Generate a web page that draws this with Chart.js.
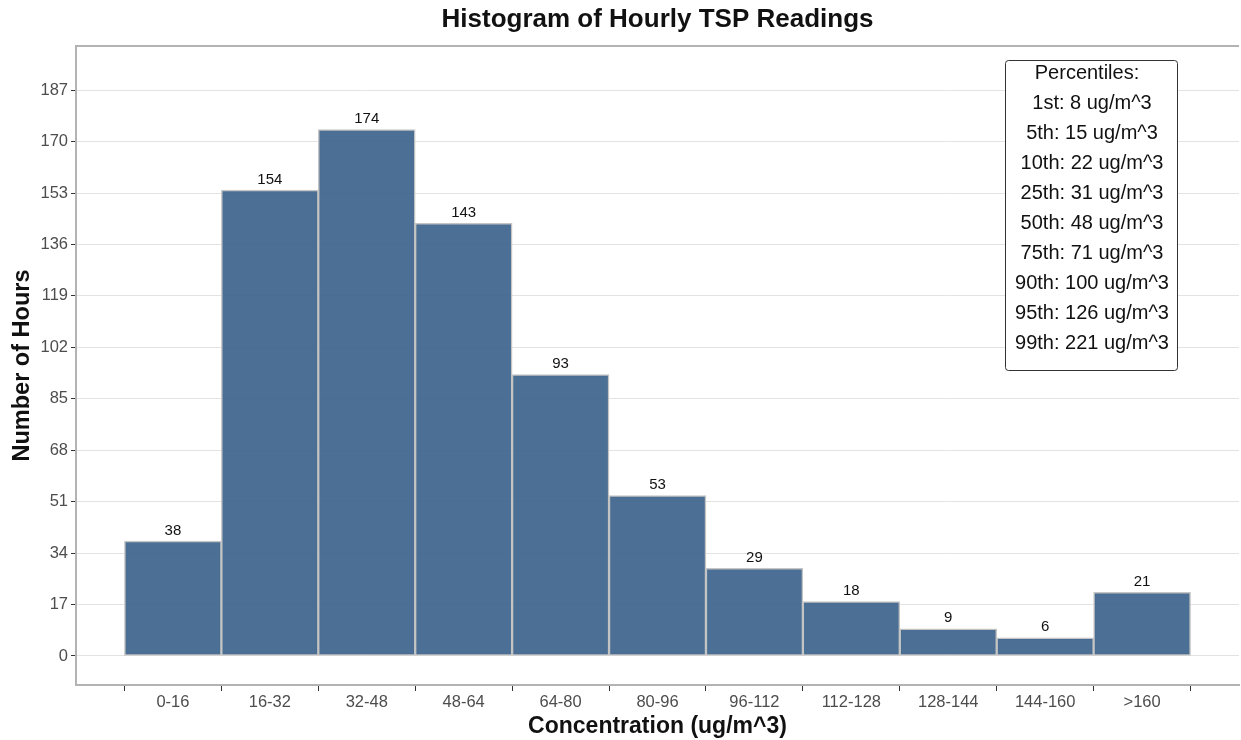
<!DOCTYPE html>
<html>
<head>
<meta charset="utf-8">
<script src="https://cdn.jsdelivr.net/npm/chart.js@4"></script>
<style>
  html, body { margin: 0; padding: 0; background: #fff; }
  #wrap { width: 1241px; height: 740px; }
</style>
</head>
<body>
<div id="wrap"><canvas id="chart" width="1241" height="740"></canvas></div>
<script>
const bins = ['0-16', '16-32', '32-48', '48-64', '64-80', '80-96', '96-112', '112-128', '128-144', '144-160', '>160'];
const hours = [38, 154, 174, 143, 93, 53, 29, 18, 9, 6, 21];
const yTicks = [0, 17, 34, 51, 68, 85, 102, 119, 136, 153, 170, 187];
const pctTitle = 'Percentiles:';
const pctNames = ['1st', '5th', '10th', '25th', '50th', '75th', '90th', '95th', '99th'];
const pctValues = [8, 15, 22, 31, 48, 71, 100, 126, 221];

// empty slot at each end gives the half-bin margin around the bars
const labels = [''].concat(bins, ['']);
const values = [null].concat(hours, [null]);

const ctx = document.getElementById('chart');
const font = 'Liberation Sans, Arial, sans-serif';

// bar value labels + panel frame + percentile box
const extras = {
  id: 'extras',
  afterDatasetsDraw(chart) {
    const c = chart.ctx;
    const meta = chart.getDatasetMeta(0);
    c.save();
    c.fillStyle = '#111';
    c.font = '15px ' + font;
    c.textAlign = 'center';
    c.textBaseline = 'bottom';
    meta.data.forEach((bar, i) => {
      if (values[i] == null) return;
      c.fillText(values[i], bar.x, bar.y - 3);
    });

    // top edge of the panel
    const a = chart.chartArea;
    c.strokeStyle = '#b3b3b3';
    c.lineWidth = 2;
    c.beginPath();
    c.moveTo(a.left, a.top);
    c.lineTo(a.right, a.top);
    c.stroke();

    // percentiles box
    const bx = a.right - 234, by = a.top + 14, bw = 172, bh = 310;
    c.fillStyle = '#fff';
    c.strokeStyle = '#333';
    c.lineWidth = 1;
    c.beginPath();
    c.roundRect(bx + 0.5, by + 0.5, bw, bh, 3);
    c.fill();
    c.stroke();
    c.fillStyle = '#111';
    c.font = '20px ' + font;
    c.textBaseline = 'middle';
    const cx = bx + bw / 2;
    c.fillText(pctTitle, cx - 4, by + 13);
    pctNames.forEach((n, i) => {
      c.fillText(n + ': ' + pctValues[i] + ' ug/m^3', cx + 1, by + 43 + i * 30);
    });
    c.restore();
  }
};

new Chart(ctx, {
  type: 'bar',
  data: {
    labels: labels,
    datasets: [{
      data: values,
      backgroundColor: 'rgba(62,101,141,0.93)',
      borderColor: '#c4c4c4',
      borderWidth: 1.5,
      borderSkipped: false,
      categoryPercentage: 1,
      barPercentage: 1
    }]
  },
  options: {
    responsive: false,
    animation: false,
    layout: { padding: { top: 2, left: 0, right: 0, bottom: 0 } },
    plugins: {
      legend: { display: false },
      tooltip: { enabled: false },
      title: {
        display: true,
        text: 'Histogram of Hourly TSP Readings',
        color: '#111',
        fullSize: false,
        font: { family: font, size: 26, weight: 'bold', lineHeight: 1 },
        padding: { top: 5, bottom: 13 }
      }
    },
    scales: {
      x: {
        offset: false,
        grid: { offset: true, drawOnChartArea: false, color: '#333', tickLength: 6 },
        border: { color: '#b3b3b3', width: 2 },
        ticks: { color: '#4d4d4d', font: { family: font, size: 16.5 }, padding: 2, maxRotation: 0, autoSkip: false },
        title: {
          display: true,
          text: 'Concentration (ug/m^3)',
          color: '#111',
          font: { family: font, size: 23, weight: 'bold', lineHeight: 1.2 },
          padding: { top: 0, bottom: 0 }
        },
        afterFit(scale) { scale.height = 55; }
      },
      y: {
        min: -9.6,
        max: 201.6,
        afterBuildTicks(scale) { scale.ticks = yTicks.map(v => ({ value: v })); },
        grid: { color: '#e3e3e3', tickColor: '#333', tickLength: 5 },
        border: { color: '#b3b3b3', width: 2 },
        ticks: { color: '#4d4d4d', font: { family: font, size: 16.5 }, padding: 3 },
        title: {
          display: true,
          text: 'Number of Hours',
          color: '#111',
          font: { family: font, size: 23.5, weight: 'bold', lineHeight: 1.2 },
          padding: { top: 8, bottom: 0 }
        },
        afterFit(scale) { scale.width = 76; }
      }
    }
  },
  plugins: [extras]
});
</script>
</body>
</html>
